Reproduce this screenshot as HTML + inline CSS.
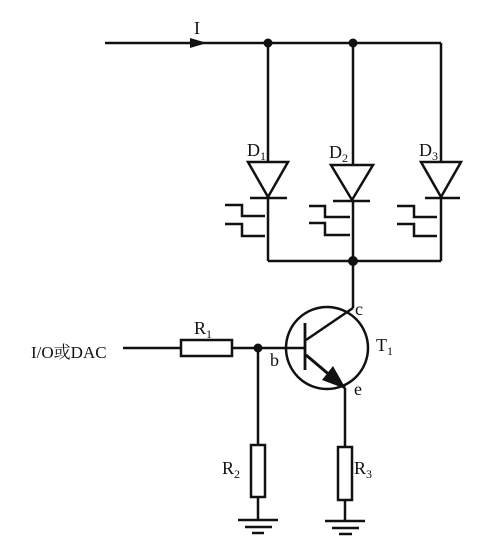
<!DOCTYPE html>
<html><head><meta charset="utf-8"><style>
html,body{margin:0;padding:0;background:#fff;}
svg text{font-family:"Liberation Serif","Noto Serif CJK SC",serif;fill:#111;}
</style></head><body>
<svg width="492" height="543" viewBox="0 0 492 543" xmlns="http://www.w3.org/2000/svg">
<g stroke="#111" stroke-width="2.5" fill="none">
<line x1="105" y1="43" x2="441" y2="43"/>
<line x1="268" y1="43" x2="268" y2="162"/>
<line x1="353" y1="43" x2="353" y2="165"/>
<line x1="441" y1="43" x2="441" y2="162"/>
<polygon points="248,162 288,162 268,197"/>
<polygon points="331,165 373,165 352,200"/>
<polygon points="421,162 461,162 441,197"/>
<line x1="250" y1="198" x2="287" y2="198"/>
<line x1="333" y1="201" x2="370" y2="201"/>
<line x1="425" y1="198" x2="460" y2="198"/>
<line x1="268" y1="197" x2="268" y2="261"/>
<line x1="353" y1="200" x2="353" y2="308"/>
<line x1="441" y1="197" x2="441" y2="261"/>
<line x1="268" y1="261" x2="441" y2="261"/>
<path d="M225 205 H242 V216 H265 M225 224 H242 V236 H265"/>
<path d="M309 206 H325 V217 H350 M309 223 H325 V235 H350"/>
<path d="M397 206 H414 V217 H437 M397 224 H414 V236 H437"/>
<circle cx="327" cy="348" r="41"/>
<line x1="305" y1="323" x2="305" y2="370" stroke-width="2.8"/>
<line x1="123" y1="348" x2="305" y2="348"/>
<rect x="181" y="340" width="51" height="16" fill="#fff"/>
<line x1="306" y1="340" x2="353" y2="308"/>
<line x1="306" y1="355" x2="345" y2="388" stroke-width="3"/>
<line x1="258" y1="348" x2="258" y2="520"/>
<rect x="251" y="445" width="14" height="52" fill="#fff"/>
<line x1="345" y1="388" x2="345" y2="521"/>
<rect x="338" y="447" width="14" height="53" fill="#fff"/>
<line x1="238" y1="520" x2="278" y2="520"/>
<line x1="245" y1="527" x2="272" y2="527"/>
<line x1="252" y1="533" x2="264" y2="533"/>
<line x1="325" y1="521" x2="365" y2="521"/>
<line x1="332" y1="528" x2="359" y2="528"/>
<line x1="339" y1="534" x2="352" y2="534"/>
</g>
<g fill="#111">
<polygon points="190,38 207,43 190,48"/>
<polygon points="346,389 322,380 333,366"/>
<circle cx="268" cy="43" r="4.5"/>
<circle cx="353" cy="43" r="4.5"/>
<circle cx="353" cy="261" r="5"/>
<circle cx="258" cy="348" r="4.5"/>
</g>
<g font-size="18">
<text x="194" y="34">I</text>
<text x="247" y="156">D<tspan font-size="12" dy="4">1</tspan></text>
<text x="329" y="158">D<tspan font-size="12" dy="4">2</tspan></text>
<text x="419" y="156">D<tspan font-size="12" dy="4">3</tspan></text>
<text x="194" y="334">R<tspan font-size="12" dy="4">1</tspan></text>
<text x="222" y="474">R<tspan font-size="12" dy="4">2</tspan></text>
<text x="354" y="474">R<tspan font-size="12" dy="4">3</tspan></text>
<text x="376" y="351">T<tspan font-size="12" dy="4">1</tspan></text>
<text x="355" y="315">c</text>
<text x="270" y="366">b</text>
<text x="354" y="395">e</text>
<text x="31" y="358" font-size="17">I/O或DAC</text>
</g>
</svg>
</body></html>
